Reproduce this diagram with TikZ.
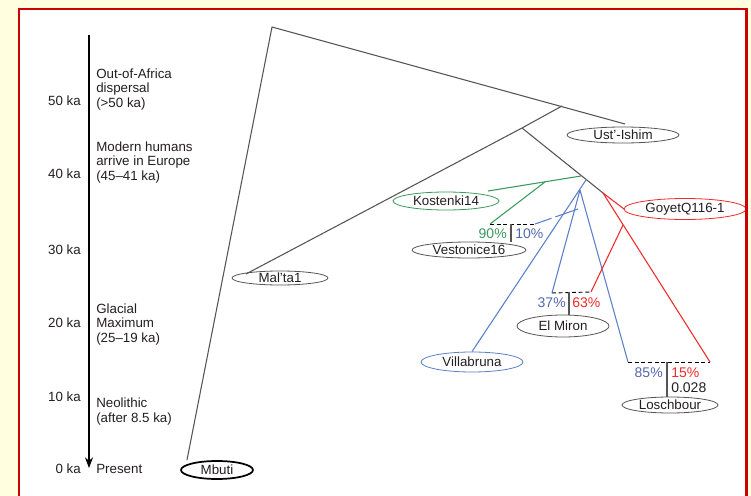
\documentclass[tikz,border=0pt]{standalone}
\usepackage{fontspec}
\setmainfont{Liberation Sans}
\usetikzlibrary{shapes.geometric,arrows.meta}
\definecolor{bgy}{HTML}{FFFFE0}
\definecolor{frame}{HTML}{CC0000}
\definecolor{treeg}{HTML}{555555}
\definecolor{gr}{HTML}{3A9A5C}
\definecolor{bl}{HTML}{5B7FC8}
\definecolor{bltext}{HTML}{5468B0}
\definecolor{rd}{HTML}{EE2B2B}
\definecolor{txt}{HTML}{231F20}
\tikzset{
  lbl/.style={font=\fontsize{10}{11.2}\selectfont, text=txt, inner sep=0pt, align=left},
  tick/.style={font=\fontsize{10}{11.2}\selectfont, text=txt, inner sep=0pt, anchor=east},
  pct/.style={font=\fontsize{10.5}{12}\selectfont, inner sep=0pt},
  leaf/.style args={#1/#2}{ellipse, draw, inner sep=0pt, minimum width=#1pt, minimum height=#2pt,
    font=\fontsize{10}{11}\selectfont, text=txt, line width=0.6pt},
  tree/.style={treeg, line width=0.8pt},
  gline/.style={gr, line width=0.8pt},
  bline/.style={bl, line width=0.8pt},
  rline/.style={rd, line width=0.8pt},
  mix/.style={black, line width=0.7pt, dash pattern=on 3pt off 2pt},
  stem/.style={treeg, line width=0.8pt},
}
\begin{document}
\begin{tikzpicture}[x=0.75pt,y=-0.75pt]
\useasboundingbox (0,0) rectangle (751,496);
\clip (0,0) rectangle (751,496);
\fill[bgy] (0,0) rectangle (751,496);
\fill[white] (19,9) rectangle (746.5,510);

% time axis
\coordinate (axtop) at (89,35);
\coordinate (axbot) at (89,468);
\draw[black, line width=0.8pt, -{Stealth[length=8pt,width=6pt]}] (axtop) -- (axbot);
\node[tick] (t50) at (81,101) {50 ka};
\node[tick] (t40) at (81,174) {40 ka};
\node[tick] (t30) at (81,250) {30 ka};
\node[tick] (t20) at (81,323) {20 ka};
\node[tick] (t10) at (81,397) {10 ka};
\node[tick] (t0) at (81,469) {0 ka};

\node[lbl, anchor=west] (ev1) at (96,89.5) {Out-of-Africa\\dispersal\\(>50 ka)};
\node[lbl, anchor=west] (ev2) at (96,162.5) {Modern humans\\arrive in Europe\\(45–41 ka)};
\node[lbl, anchor=west] (ev3) at (96,324.5) {Glacial\\Maximum\\(25–19 ka)};
\node[lbl, anchor=west] (ev4) at (96,412) {Neolithic\\(after 8.5 ka)};
\node[lbl, anchor=west] (ev5) at (96,469) {Present};

% leaves
\node[leaf=54/13.5, line width=1.3pt, draw=black] (mbuti) at (217,470) {Mbuti};
\node[leaf=72/10.5, draw=treeg] (malta) at (280,278) {Mal'ta1};
\node[leaf=84/12, draw=treeg] (ust) at (623,135) {Ust'-Ishim};
\node[leaf=79.5/13.5, draw=gr] (kost) at (446,201) {Kostenki14};
\node[leaf=85.5/12, draw=treeg] (vest) at (469,250) {Vestonice16};
\node[leaf=91.5/15.75, draw=rd] (goyet) at (685,209) {GoyetQ116-1};
\node[leaf=69/16.5, draw=treeg] (elmiron) at (563,326) {El Miron};
\node[leaf=76.5/15, draw=bl] (villa) at (472,362) {Villabruna};
\node[leaf=72/12, draw=treeg] (losch) at (670,405) {Loschbour};

% tree coordinates
\coordinate (root) at (272,27);
\coordinate (mb) at (187,460);
\coordinate (us) at (625,124);
\coordinate (nA) at (562,106);
\coordinate (nB) at (522,128);
\coordinate (ma) at (246,274);
\coordinate (nC) at (603,193);
\coordinate (gJ) at (581,176);
\coordinate (gN) at (545,182);
\coordinate (ko) at (488,191);
\coordinate (vG) at (490,224);
\coordinate (bJ) at (586,180);
\coordinate (bN) at (580,190);
\coordinate (emB) at (552,293);
\coordinate (loB) at (628,362);
\coordinate (bD) at (578,209);
\coordinate (vB) at (535,224);
\coordinate (go) at (624,209);
\coordinate (loR) at (710,362);
\coordinate (rN) at (623,225);
\coordinate (emR) at (591,292);
\coordinate (vS) at (511,224);
\coordinate (vE) at (511,242);
\coordinate (eS) at (569,292);
\coordinate (eE) at (569,315);
\coordinate (lS) at (667,362);
\coordinate (lE) at (667,397);

% black tree
\draw[tree] (mb) -- (root) -- (us);
\draw[tree] (nA) -- (nB) -- (ma);
\draw[tree] (nB) -- (nC);
% green
\draw[gline] (gJ) -- (ko);
\draw[gline] (gN) -- (vG);
% blue
\draw[bline] (bJ) -- (villa.north);
\draw[bline] (bN) -- (emB);
\draw[bline] (bN) -- (loB);
\draw[bline, dash pattern=on 18pt off 3pt on 30pt] (bD) -- (vB);
% red
\draw[rline] (nC) -- (go);
\draw[rline] (nC) -- (loR);
\draw[rline] (rN) -- (emR);

% admixture bars
\draw[mix] (vG) -- (vB);
\draw[stem] (vS) -- (vE);
\draw[mix] (emB) -- (emR);
\draw[stem] (eS) -- (eE);
\draw[mix] (loB) -- (loR);
\draw[stem] (lS) -- (lE);

\node[pct, text=gr, anchor=east] (p90) at (507,234) {90\%};
\node[pct, text=bltext, anchor=west] (p10) at (515,234) {10\%};
\node[pct, text=bltext, anchor=east] (p37) at (566,303) {37\%};
\node[pct, text=rd, anchor=west] (p63) at (572,303) {63\%};
\node[pct, text=bltext, anchor=east] (p85) at (663,373) {85\%};
\node[pct, text=rd, anchor=west] (p15) at (671,373) {15\%};
\node[pct, text=txt, anchor=west] (p028) at (671,388) {0.028};

% frame
\draw[frame, line width=2pt] (19,9) rectangle (746.5,520);
\end{tikzpicture}
\end{document}
